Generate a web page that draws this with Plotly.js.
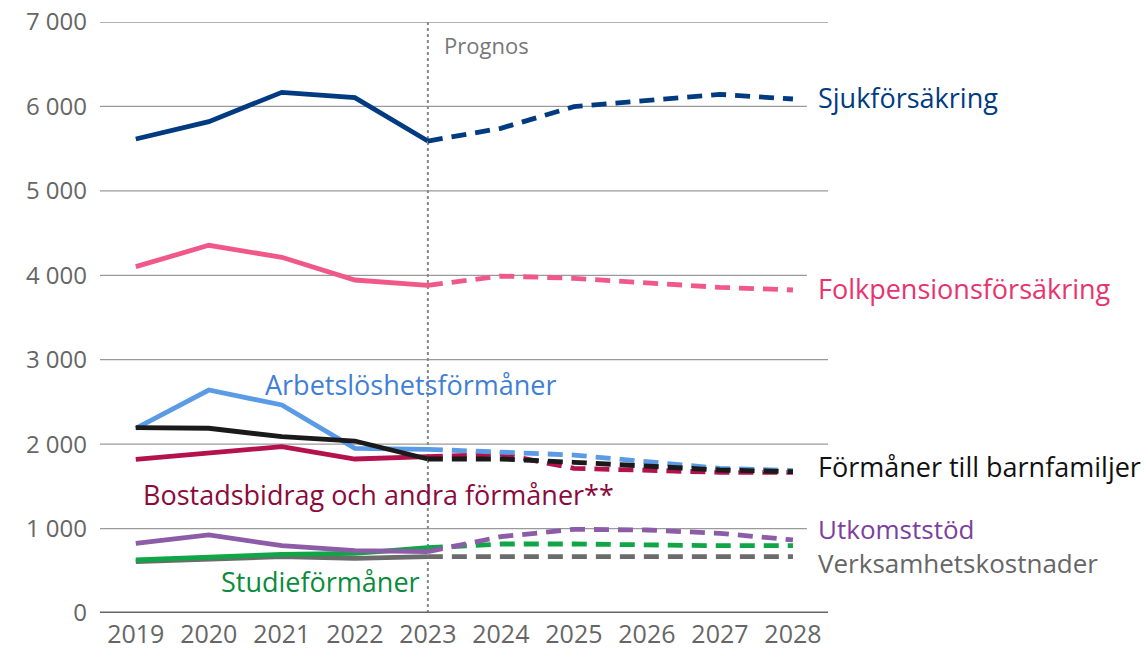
<!DOCTYPE html>
<html>
<head>
<meta charset="utf-8">
<script src="https://cdn.plot.ly/plotly-3.0.1.min.js"></script>
<style>html,body{margin:0;padding:0;background:#fff;}#chart{width:1145px;height:652px;}</style>
</head>
<body>
<div id="chart"></div>
<script>
const years = [2019, 2020, 2021, 2022, 2023, 2024, 2025, 2026, 2027, 2028];
const lastActualYear = 2023;
const yTickVals = [0, 1000, 2000, 3000, 4000, 5000, 6000, 7000];
const yTickText = ["0", "1 000", "2 000", "3 000", "4 000", "5 000", "6 000", "7 000"];

const sjukforsakring = [5614, 5820, 6167, 6104, 5590, 5741, 5997, 6068, 6143, 6088];
const folkpension = [4102, 4355, 4213, 3944, 3881, 3991, 3964, 3905, 3857, 3826];
const arbetsloshet = [2188, 2641, 2464, 1950, 1939, 1911, 1871, 1792, 1714, 1686];
const bostadsbidrag = [1820, 1891, 1970, 1824, 1851, 1883, 1714, 1686, 1666, 1666];
const barnfamiljer = [2195, 2188, 2088, 2037, 1824, 1824, 1785, 1741, 1694, 1674];
const utkomststod = [825, 924, 797, 738, 726, 904, 991, 983, 944, 865];
const studieformaner = [628, 667, 695, 707, 773, 817, 817, 805, 797, 797];
const verksamhet = [609, 636, 667, 648, 667, 667, 675, 667, 667, 667];

const seriesNames = ["Verksamhetskostnader", "Studieförmåner", "Utkomststöd", "Bostadsbidrag och andra förmåner**", "Arbetslöshetsförmåner", "Förmåner till barnfamiljer", "Folkpensionsförsäkring", "Sjukförsäkring"];
const seriesValues = [verksamhet, studieformaner, utkomststod, bostadsbidrag, arbetsloshet, barnfamiljer, folkpension, sjukforsakring];
const seriesColors = ["#6b6b6b", "#10a546", "#8c5ca8", "#b3124c", "#5b9be6", "#1a1a1a", "#f0588a", "#003b82"];

const splitIdx = years.indexOf(lastActualYear);
const traces = [];
seriesValues.forEach((vals, i) => {
  traces.push({
    x: years.slice(0, splitIdx + 1), y: vals.slice(0, splitIdx + 1),
    type: "scatter", mode: "lines", name: seriesNames[i], showlegend: false,
    line: {color: seriesColors[i], width: 4.8}, hoverinfo: "skip"
  });
  traces.push({
    x: years.slice(splitIdx), y: vals.slice(splitIdx),
    type: "scatter", mode: "lines", name: seriesNames[i] + " prognos", showlegend: false,
    line: {color: seriesColors[i], width: 4.8, dash: "15px,9px"}, hoverinfo: "skip"
  });
});

const font = "'Open Sans', 'Noto Sans', sans-serif";
const shortGrid = [1000, 4000, 6000];
const gridShapes = yTickVals.filter(v => v > 0).map(v => ({
  type: "line", xref: "paper", yref: "y", x0: 0, x1: shortGrid.includes(v) ? 0.971 : 1, y0: v, y1: v,
  line: {color: "#9a9a9a", width: 1.3}, layer: "below"
}));

function label(text, x, y, color, xanchor, size) {
  return {text: text, x: x, y: y, xref: "x", yref: "y", showarrow: false,
    xanchor: xanchor, yanchor: "middle", font: {family: font, size: size || 27, color: color}};
}

const layout = {
  width: 1145, height: 652,
  margin: {l: 100, r: 317, t: 22, b: 39},
  paper_bgcolor: "#fff", plot_bgcolor: "#fff",
  xaxis: {range: [2018.51, 2028.48], tickvals: years, ticktext: years.map(String),
    showgrid: false, zeroline: false, showline: false, ticks: "",
    ticklabelstandoff: 4,
    tickfont: {family: font, size: 25, color: "#666"}, fixedrange: true},
  yaxis: {range: [0, 7000], tickvals: yTickVals, ticktext: yTickText,
    showgrid: false, zeroline: false, showline: false, ticks: "",
    ticklabelstandoff: 12,
    tickfont: {family: font, size: 24, color: "#666"}, fixedrange: true},
  shapes: gridShapes.concat([
    {type: "line", xref: "paper", yref: "y", x0: 0, x1: 1, y0: 0, y1: 0, line: {color: "#666", width: 3}},
    {type: "line", xref: "x", yref: "y", x0: lastActualYear, x1: lastActualYear, y0: 0, y1: 7000,
      line: {color: "#888", width: 2, dash: "dot"}, layer: "below"}
  ]),
  annotations: [
    {text: "Prognos", x: 2023.2, y: 6727, xref: "x", yref: "y", showarrow: false, xanchor: "left", yanchor: "middle",
      font: {family: font, size: 22, color: "#777"}},
    label("Sjukförsäkring", 2028.31, 6100, "#003b82", "left"),
    label("Folkpensionsförsäkring", 2028.31, 3849, "#e8336e", "left"),
    label("Arbetslöshetsförmåner", 2022.77, 2712, "#3f7fd6", "center"),
    label("Förmåner till barnfamiljer", 2028.31, 1741, "#111", "left"),
    label("Bostadsbidrag och andra förmåner**", 2022.32, 1409, "#8b0a3c", "center"),
    label("Utkomststöd", 2028.31, 1000, "#7c3f9f", "left", 26),
    label("Verksamhetskostnader", 2028.31, 598, "#666", "left", 26),
    label("Studieförmåner", 2021.53, 379, "#0a8c3c", "center")
  ]
};

Plotly.newPlot("chart", traces, layout, {displayModeBar: false, staticPlot: true});
</script>
</body>
</html>
